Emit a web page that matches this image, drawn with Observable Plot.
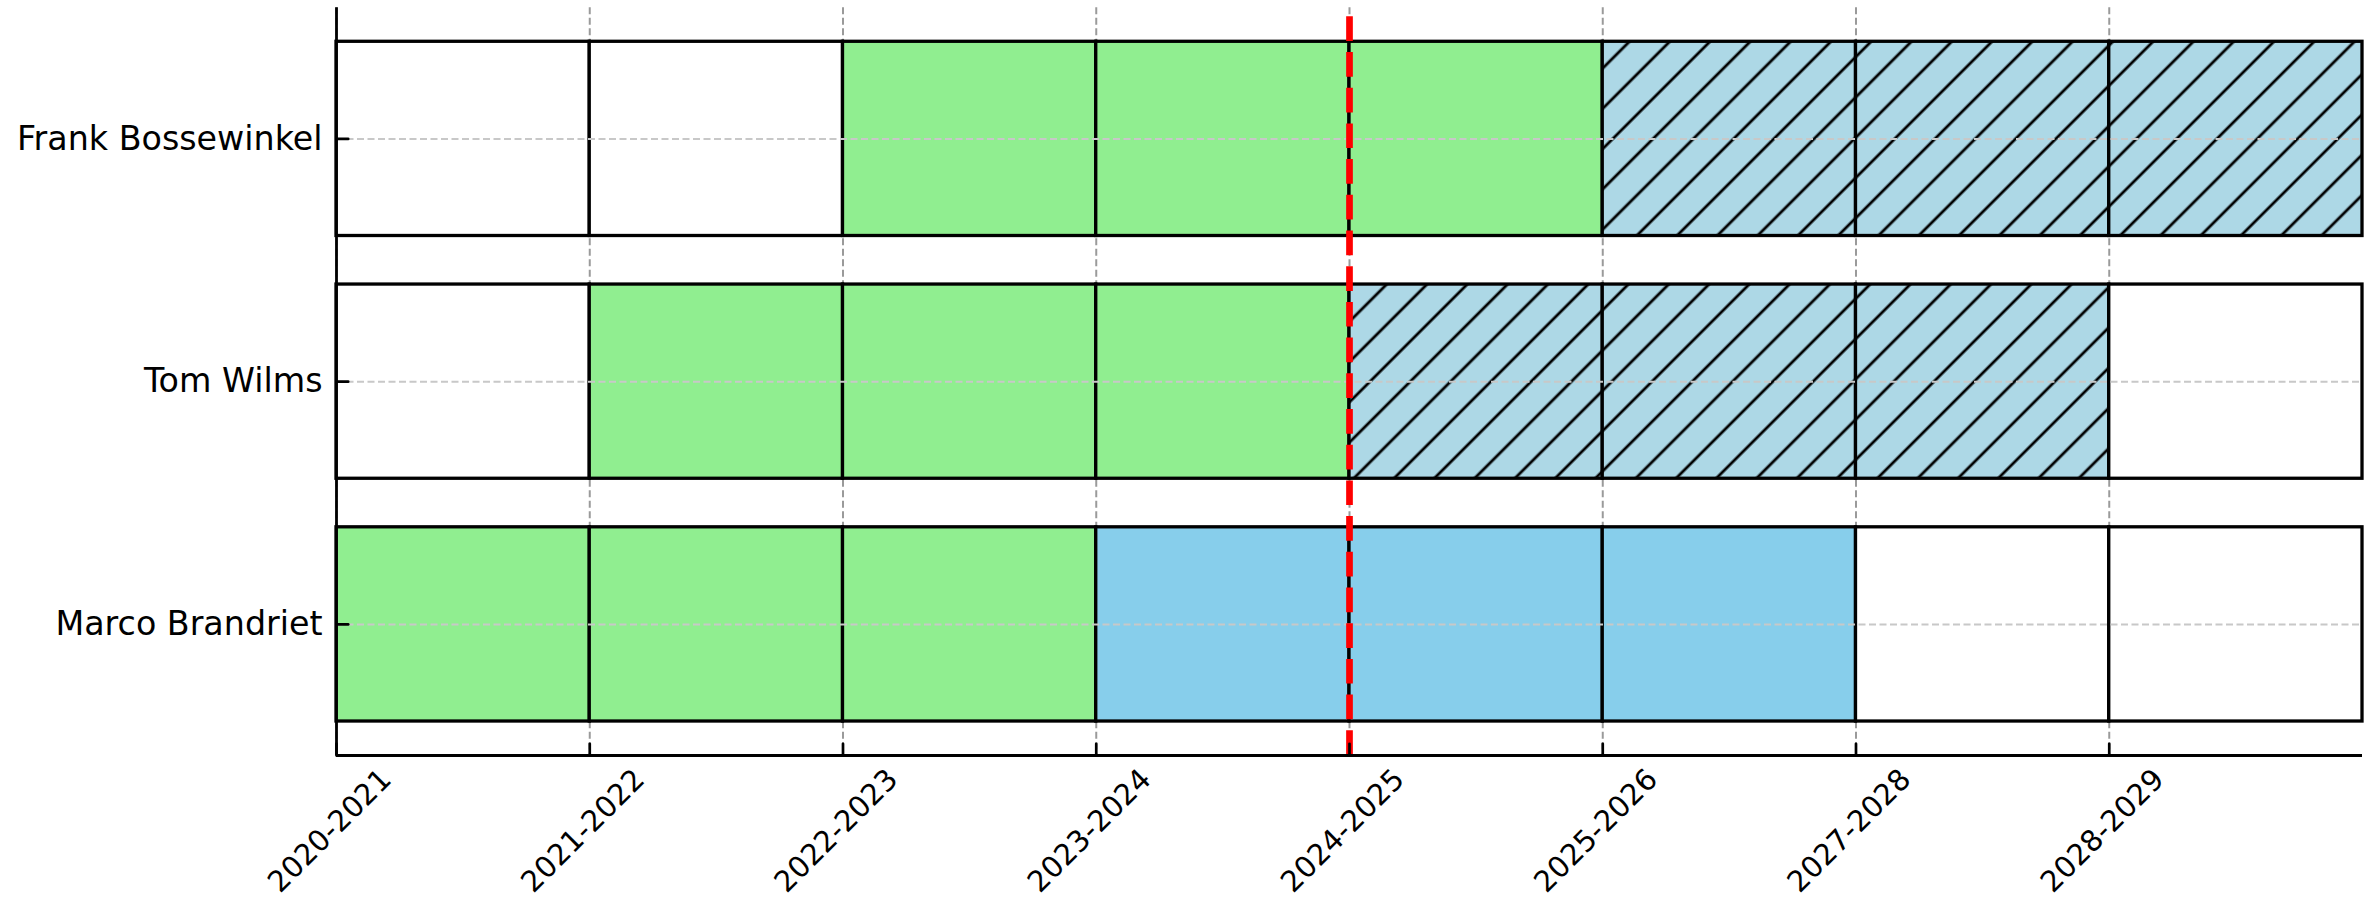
<!DOCTYPE html>
<html>
<head>
<meta charset="utf-8">
<script src="https://cdn.jsdelivr.net/npm/d3@7"></script>
<script src="https://cdn.jsdelivr.net/npm/@observablehq/plot@0.6"></script>
<style>
  body { margin: 0; background: #fff; }
  #chart svg { display: block; }
</style>
</head>
<body>
<div id="chart"></div>
<script>
// ---- data ----
const players = ["Marco Brandriet", "Tom Wilms", "Frank Bossewinkel"]; // bottom -> top
const seasons = ["2020-2021", "2021-2022", "2022-2023", "2023-2024", "2024-2025", "2025-2026", "2027-2028", "2028-2029"];
const marcoStatus = ["played", "played", "played", "contract", "contract", "contract", "none", "none"];
const tomStatus   = ["none", "played", "played", "played", "projected", "projected", "projected", "none"];
const frankStatus = ["none", "none", "played", "played", "played", "projected", "projected", "projected"];
const currentSeason = "2024-2025";
const statusColors = { played: "#90EE90", contract: "#87CEEB", projected: "url(#hatch)", none: "#ffffff" };

// ---- derived table ----
const statusByPlayer = [marcoStatus, tomStatus, frankStatus];
const cells = players.flatMap((p, row) =>
  statusByPlayer[row].map((s, col) => ({ player: p, row, col, status: s }))
);
const seasonIdx = seasons.map((d, i) => i);
const playerIdx = players.map((d, i) => i);
const barHeight = 0.8;
const yDomain = [-0.54, players.length - 1 + 0.54];

const tickShape = { draw(context, l) { context.moveTo(0, 0); context.lineTo(0, -l); } };

const svg = Plot.plot({
  width: 2374,
  height: 904,
  marginLeft: 336,
  marginRight: 12,
  marginTop: 7.3,
  marginBottom: 149,
  style: { fontFamily: "'DejaVu Sans', sans-serif", background: "white", color: "black" },
  x: { domain: [0, seasons.length], axis: null },
  y: { domain: yDomain, axis: null },
  color: { type: "identity" },
  marks: [
    // vertical grid (behind bars)
    Plot.ruleX(seasonIdx, { stroke: "#9a9a9a", strokeWidth: 2, strokeDasharray: "7,3.5" }),
    // cells
    Plot.rect(cells, {
      x1: "col",
      x2: d => d.col + 1,
      y1: d => d.row - barHeight / 2,
      y2: d => d.row + barHeight / 2,
      fill: d => statusColors[d.status],
      stroke: "black",
      strokeWidth: 3.3
    }),
    // horizontal grid (over bars)
    Plot.ruleY(playerIdx, { stroke: "#c8c8c8", strokeWidth: 2, strokeDasharray: "7,3.5" }),
    // current season marker
    Plot.ruleX([seasons.indexOf(currentSeason)], {
      stroke: "red", strokeWidth: 6.7, strokeDasharray: "24.7,11", strokeDashoffset: 26.7
    }),
    // spines
    Plot.ruleX([0], { stroke: "black", strokeWidth: 2.8 }),
    Plot.ruleY([yDomain[0]], { stroke: "black", strokeWidth: 2.8 }),
    // inward ticks
    Plot.vector(players, { y: (d, i) => i, frameAnchor: "left", length: 11.7, rotate: 90, anchor: "start", shape: tickShape, stroke: "black", strokeWidth: 2.7 }),
    Plot.vector(seasons, { x: (d, i) => i, frameAnchor: "bottom", length: 11.7, rotate: 0, anchor: "start", shape: tickShape, stroke: "black", strokeWidth: 2.7 }),
    // tick labels
    Plot.text(players, { y: (d, i) => i, text: d => d, frameAnchor: "left", dx: -14, textAnchor: "end", fontSize: 33.3, fill: "black" }),
    Plot.text(seasons, { x: (d, i) => i, text: d => d, frameAnchor: "bottom", dy: 82, rotate: -45, textAnchor: "middle", fontSize: 29.3, fill: "black" })
  ]
});

// hatch pattern for projected seasons
const hatchSpacing = 40.28 / Math.SQRT2;
const hatchPhase = 19.5 / Math.SQRT2;
const defs = d3.select(svg).insert("defs", ":first-child");
const pat = defs.append("pattern")
  .attr("id", "hatch")
  .attr("patternUnits", "userSpaceOnUse")
  .attr("width", hatchSpacing)
  .attr("height", hatchSpacing)
  .attr("patternTransform", "rotate(45)");
pat.append("rect").attr("width", hatchSpacing).attr("height", hatchSpacing).attr("fill", "#ADD8E6");
pat.append("line")
  .attr("x1", hatchPhase).attr("x2", hatchPhase)
  .attr("y1", -1).attr("y2", hatchSpacing + 1)
  .attr("stroke", "black").attr("stroke-width", 2.8);

document.getElementById("chart").appendChild(svg);
</script>
</body>
</html>
